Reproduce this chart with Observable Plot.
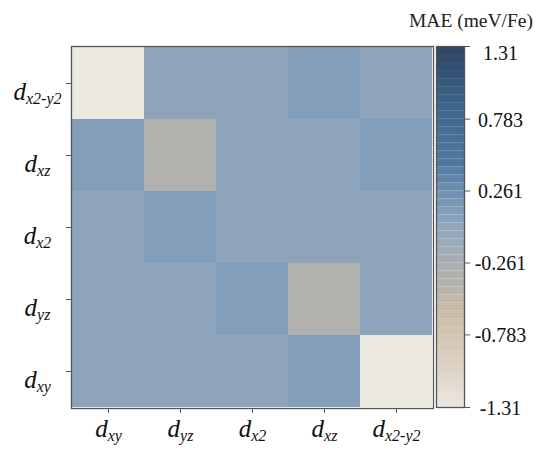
<!DOCTYPE html>
<html><head><meta charset="utf-8">
<script src="https://cdn.jsdelivr.net/npm/d3@7"></script>
<script src="https://cdn.jsdelivr.net/npm/@observablehq/plot@0.6"></script>
<style>
body{margin:0;background:#fff;}
#chart{position:relative;width:536px;height:450px;font-family:"Liberation Serif","Times New Roman",serif;}
#chart svg{position:absolute;top:0;}
#title{position:absolute;right:3px;top:11px;font-size:19.5px;line-height:19px;color:#222;white-space:nowrap;}
</style></head><body><div id="chart"><div id="title">MAE (meV/Fe)</div></div>
<script>
// Orbitals (x left->right, y top->bottom)
const xOrbitals = ["xy", "yz", "x2", "xz", "x2-y2"];
const yOrbitals = ["x2-y2", "xz", "x2", "yz", "xy"];
// MAE values (meV/Fe), one row per yOrbitals entry
const maeRows = [
  [-1.31, 0.02, 0.02, 0.10, 0.02],
  [0.10, -0.38, 0.02, 0.02, 0.10],
  [0.02, 0.10, 0.02, 0.02, 0.02],
  [0.02, 0.02, 0.10, -0.38, 0.02],
  [0.02, 0.02, 0.02, 0.10, -1.31]
];
// colour-bar stops
const colorStops = [-1.31, -1.114, -0.896, -0.679, -0.533, -0.425, -0.243, -0.025, 0.192, 0.468, 0.918, 1.31];
const colorHexes = ["#ece8e2", "#e0d8cc", "#d6cbbb", "#cebfab", "#c3b8a8", "#b5b3ab", "#a6adb2", "#93a8bc", "#7897b6", "#4f78a1", "#3b6389", "#2c4562"];
const barTicks = [1.31, 0.783, 0.261, -0.261, -0.783, -1.31];
const barTickLabels = ["1.31", "0.783", "0.261", "-0.261", "-0.783", "-1.31"];

const cells = yOrbitals.flatMap((yo, i) => xOrbitals.map((xo, j) => ({x: xo, y: yo, value: maeRows[i][j]})));
const colorOpts = {type: "linear", domain: colorStops, range: colorHexes, interpolate: "rgb"};
const baseStyle = {fontFamily: '"Liberation Serif", "Times New Roman", serif', background: "transparent", color: "#222", overflow: "visible"};

const heat = Plot.plot({
  width: 436, height: 450, marginLeft: 71, marginRight: 3, marginTop: 46, marginBottom: 42,
  style: baseStyle,
  x: {type: "band", domain: xOrbitals, padding: 0, axis: null},
  y: {type: "band", domain: yOrbitals, padding: 0, axis: null},
  color: colorOpts,
  marks: [
    Plot.cell(cells, {x: "x", y: "y", fill: "value", inset: 0}),
    Plot.frame({stroke: "#555", strokeWidth: 1.3}),
    Plot.axisX({anchor: "bottom", tickSize: 5, tickFormat: () => "", stroke: "#555", label: null}),
    Plot.axisY({anchor: "left", tickSize: 5, tickFormat: () => "", stroke: "#555", label: null}),
    Plot.text(xOrbitals, {x: d => d, text: d => "d_" + d, frameAnchor: "bottom", dy: 28, fontSize: 25, fontStyle: "italic", textAnchor: "middle", fill: "#111"}),
    Plot.text(yOrbitals, {y: d => d, text: d => "d_" + d, frameAnchor: "left", dx: -34, dy: 8, fontSize: 25, fontStyle: "italic", textAnchor: "middle", fill: "#111"})
  ]
});
heat.style.left = "0px";
heat.querySelectorAll("text").forEach(t => {
  const m = /^d_(.+)$/.exec(t.textContent);
  if (!m) return;
  t.textContent = "d";
  const ts = document.createElementNS("http://www.w3.org/2000/svg", "tspan");
  ts.setAttribute("dy", "4");
  ts.setAttribute("font-size", "16");
  ts.textContent = m[1];
  t.appendChild(ts);
});

const nBins = 45;
const binEdges = d3.range(nBins + 1).map(i => -1.31 + i * 2.62 / nBins);
const bins = d3.range(nBins).map(i => ({y1: binEdges[i], y2: binEdges[i + 1], v: (binEdges[i] + binEdges[i + 1]) / 2}));

const bar = Plot.plot({
  width: 100, height: 450, marginLeft: 0, marginRight: 72, marginTop: 46, marginBottom: 43,
  style: baseStyle,
  y: {domain: [-1.31, 1.31], axis: null},
  color: colorOpts,
  marks: [
    Plot.rect(bins, {y1: "y1", y2: "y2", fill: "v"}),
    Plot.frame({stroke: "#555", strokeWidth: 1.3}),
    Plot.axisY(barTicks, {anchor: "right", tickSize: 5, tickFormat: () => "", stroke: "#555", label: null}),
    Plot.text(barTicks.slice(1), {y: d => d, text: (d, i) => barTickLabels[i + 1], frameAnchor: "right", dx: 36, dy: 1, textAnchor: "middle", fontSize: 20, fill: "#111"}),
    Plot.text(barTicks.slice(0, 1), {y: d => d, text: (d, i) => barTickLabels[i], frameAnchor: "right", dx: 36, dy: 7, textAnchor: "middle", fontSize: 20, fill: "#111"})
  ]
});
bar.style.left = "436px";

const chart = document.getElementById("chart");
chart.appendChild(heat);
chart.appendChild(bar);
</script>
</body></html>
